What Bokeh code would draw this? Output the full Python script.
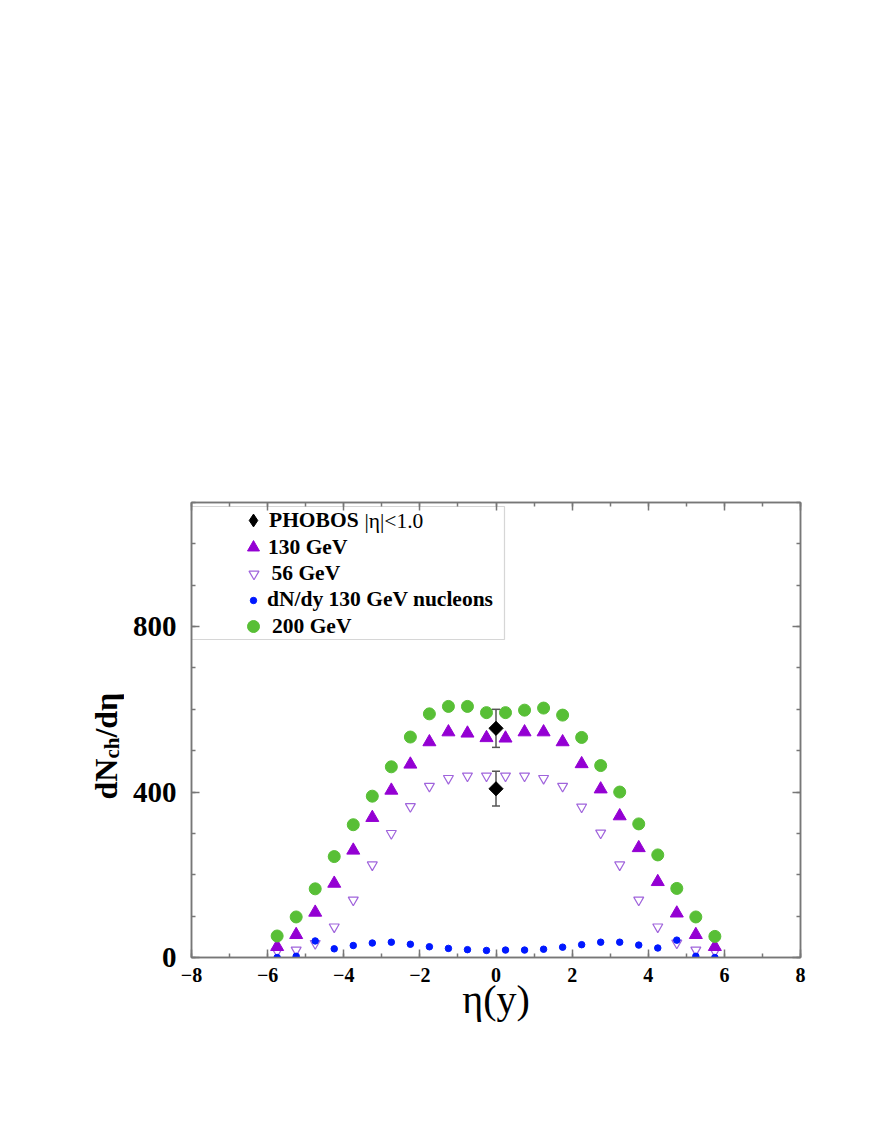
import math
from bokeh.plotting import figure
from bokeh.layouts import row
from bokeh.models import (Range1d, LinearAxis, FixedTicker, CustomJSTickFormatter,
                          Legend, LegendItem, Label, BoxAnnotation, Whisker,
                          ColumnDataSource, TeeHead)
from bokeh.embed import file_html
from bokeh.resources import INLINE

# ---------------- data ----------------
eta = [-5.75, -5.25, -4.75, -4.25, -3.75, -3.25, -2.75, -2.25, -1.75, -1.25, -0.75, -0.25,
       0.25, 0.75, 1.25, 1.75, 2.25, 2.75, 3.25, 3.75, 4.25, 4.75, 5.25, 5.75]
dn_200 = [52, 98, 166, 244, 321, 390, 461, 533, 589, 607, 607, 592,
          592, 598, 603, 586, 532, 464, 400, 323, 248, 167, 98, 51]
dn_130 = [26, 55, 109, 179, 259, 338, 404, 467, 521, 545, 542, 531,
          530, 545, 545, 521, 468, 407, 342, 265, 183, 107, 55, 26]
dn_56 = [15, 18, 34, 74, 139, 224, 300, 365, 414, 433, 439, 439,
         439, 439, 433, 414, 364, 301, 224, 139, 74, 35, 18, 15]
dn_nucleons = [0, 3, 40, 21, 29, 35, 37, 32, 26, 22, 19, 17,
               18, 18, 20, 25, 31, 37, 37, 30, 23, 42, 3, 0]
phobos_eta = [0.0, 0.0]
phobos_dn = [554, 408]
phobos_err = [46, 42]

x_major = [-8, -6, -4, -2, 0, 2, 4, 6, 8]
x_minor = list(range(-8, 9))
y_major = [0, 400, 800]
y_minor = list(range(0, 1101, 100))

GREEN = "#58bf36"
PURPLE = "#9400d3"
OPEN_PURPLE = "#a064dc"
BLUE = "#0018ff"
AXIS_GRAY = "#777777"
FONT = "Liberation Serif"

LABEL_W = 124          # width of the strip that carries the y-axis title
FIG_H = 1057
FRAME_TOP = 502
FRAME_H = 455

p = figure(frame_width=609, frame_height=FRAME_H,
           x_range=Range1d(-8, 8), y_range=Range1d(0, 1100),
           output_backend="svg", toolbar_location=None,
           min_border_left=191 - LABEL_W, min_border_top=FRAME_TOP,
           min_border_right=60, min_border_bottom=FIG_H - FRAME_TOP - FRAME_H,
           background_fill_color="white", border_fill_color="white")
p.xgrid.visible = False
p.ygrid.visible = False
p.outline_line_color = AXIS_GRAY
p.outline_line_width = 1.5

minus_fmt = CustomJSTickFormatter(code="return tick < 0 ? '\u2212' + Math.abs(tick) : String(tick);")
blank_fmt = CustomJSTickFormatter(code="return '';")


def style_axis(ax, major, minor, size="20px", labels=True, fmt=None):
    ax.ticker = FixedTicker(ticks=major, minor_ticks=minor)
    ax.axis_line_color = AXIS_GRAY
    ax.axis_line_width = 1.5
    ax.major_tick_line_color = AXIS_GRAY
    ax.minor_tick_line_color = AXIS_GRAY
    ax.major_tick_line_width = 1.5
    ax.minor_tick_line_width = 1.5
    ax.major_tick_in = 8
    ax.major_tick_out = 0
    ax.minor_tick_in = 4
    ax.minor_tick_out = 0
    ax.major_label_text_font = FONT
    ax.major_label_text_font_style = "bold"
    ax.major_label_text_font_size = size
    ax.major_label_text_color = "black"
    if not labels:
        ax.formatter = blank_fmt
    elif fmt is not None:
        ax.formatter = fmt


xb = p.xaxis[0]
style_axis(xb, x_major, x_minor, size="20px", fmt=minus_fmt)
xb.major_label_standoff = 10
xb.axis_label = "\u03b7(y)"
xb.axis_label_text_font = FONT
xb.axis_label_text_font_style = "normal"
xb.axis_label_text_font_size = "40px"
xb.axis_label_text_color = "black"
xb.axis_label_standoff = -8

yl = p.yaxis[0]
style_axis(yl, y_major, y_minor, size="29px")
yl.major_label_standoff = 15

xt = LinearAxis()
style_axis(xt, x_major, x_minor, labels=False)
p.add_layout(xt, "above")
yr = LinearAxis()
style_axis(yr, y_major, y_minor, labels=False)
p.add_layout(yr, "right")

# ---------------- data glyphs ----------------
r56 = p.scatter(eta, dn_56, marker="inverted_triangle", size=10,
                fill_color=None, line_color=OPEN_PURPLE, line_width=1.2)
r130 = p.scatter(eta, dn_130, marker="triangle", size=13,
                 fill_color=PURPLE, line_color=PURPLE)
rnuc = p.scatter(eta, dn_nucleons, marker="circle", size=6.5,
                 fill_color=BLUE, line_color=BLUE)
r200 = p.scatter(eta, dn_200, marker="circle", size=12,
                 fill_color=GREEN, line_color=GREEN)

src_ph = ColumnDataSource(dict(
    x=phobos_eta, y=phobos_dn,
    lo=[v - e for v, e in zip(phobos_dn, phobos_err)],
    hi=[v + e for v, e in zip(phobos_dn, phobos_err)]))
wh = Whisker(source=src_ph, base="x", upper="hi", lower="lo",
             line_color="#555555", line_width=1.5, level="underlay",
             upper_head=TeeHead(size=8, line_color="#555555", line_width=1.5),
             lower_head=TeeHead(size=8, line_color="#555555", line_width=1.5))
p.add_layout(wh)
# narrow diamond (used by the legend) hidden under a 45deg-rotated square
rph_leg = p.scatter("x", "y", source=src_ph, marker="diamond", size=13,
                    fill_color="black", line_color="black")
rph = p.scatter("x", "y", source=src_ph, marker="square", angle=math.pi / 4, size=10,
                fill_color="black", line_color="black")

# ---------------- legend (one small legend per entry) ----------------
LEG_X = 62  # glyph centre, px from frame left


def add_entry(renderer, label, G, yc, standoff):
    leg = Legend(items=[LegendItem(label=label, renderers=[renderer])],
                 location=(LEG_X - G / 2, yc - G / 2),
                 glyph_width=G, glyph_height=G, label_height=G,
                 label_standoff=standoff, padding=0, margin=0, spacing=0,
                 border_line_color=None, background_fill_alpha=0,
                 label_text_font=FONT, label_text_font_style="bold",
                 label_text_font_size="21.5px", label_text_color="black")
    p.add_layout(leg)


add_entry(rph_leg, "PHOBOS", 32, 437, -5)
add_entry(r130, "130 GeV", 30, 410, -4)
add_entry(r56, "56 GeV", 25, 384, 6)
add_entry(rnuc, "dN/dy 130 GeV nucleons", 16, 353, 6)
add_entry(r200, "200 GeV", 30, 331, 4)

p.add_layout(Label(x=173, y=437, x_units="screen", y_units="screen",
                   text="|\u03b7|<1.0", text_font=FONT, text_font_size="21.5px",
                   text_baseline="middle", text_color="black"))

p.add_layout(BoxAnnotation(left=0, right=313, top=FRAME_H - 4, bottom=FRAME_H - 137,
                           left_units="screen", right_units="screen",
                           top_units="screen", bottom_units="screen",
                           fill_alpha=0, line_color=AXIS_GRAY, line_width=1.2,
                           level="overlay"))

# ---------------- y axis title dN_ch/dη (strip to the left of the plot) ----------------
# (its frame is aligned by the row layout with the main frame: page y 502..957)
ylab = figure(width=LABEL_W, height=FIG_H, x_range=Range1d(0, 1), y_range=Range1d(0, 1),
              output_backend="svg", toolbar_location=None, min_border=0,
              x_axis_location=None, y_axis_location=None,
              outline_line_color=None, background_fill_color="white",
              border_fill_color="white")
ylab.grid.visible = False

YF = 32
SUB = 21
base_x = 105
y0 = (FRAME_TOP + FRAME_H) - 799
w_dN = (0.556 + 0.722) * YF
w_ch = (0.444 + 0.556) * SUB
common = dict(x_units="screen", y_units="screen", angle=math.pi / 2, text_font=FONT,
              text_font_style="bold", text_baseline="alphabetic", text_align="left",
              text_color="black")
ylab.add_layout(Label(x=base_x, y=y0, text="dN", text_font_size=f"{YF}px", **common))
ylab.add_layout(Label(x=base_x + 6, y=y0 + w_dN, text="ch", text_font_size=f"{SUB}px", **common))
ylab.add_layout(Label(x=base_x, y=y0 + w_dN + w_ch, text="/d\u03b7",
                      text_font_size=f"{YF}px", **common))

layout = row(ylab, p)
open("out.html", "w").write(file_html(layout, INLINE))
